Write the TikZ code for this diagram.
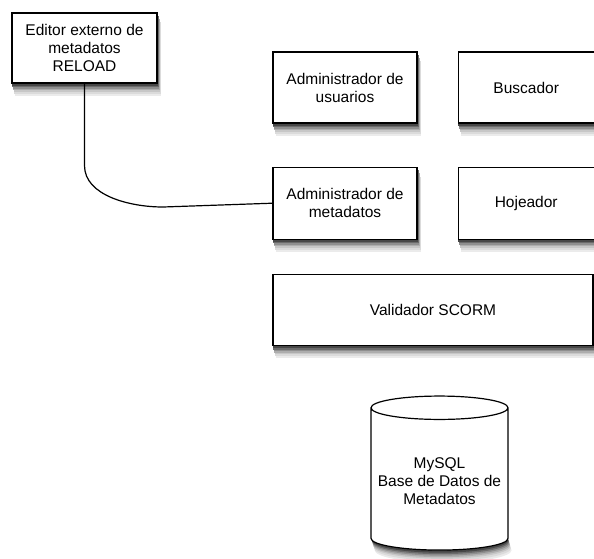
\documentclass[tikz,border=0pt]{standalone}
\usepackage{fontspec}
\setmainfont{Liberation Sans}
\usetikzlibrary{positioning,shapes.geometric,backgrounds}

\tikzset{
  modulo/.style={draw, line width=1.2pt, fill=white, align=center,
    font=\fontsize{15.5}{18}\selectfont},
}

\begin{document}
\begin{tikzpicture}[x=1pt, y=1pt]
  \useasboundingbox (0,0) rectangle (594,-558);
  \node (editor) [modulo, minimum width=145pt, minimum height=70pt] at (84.5,-48) {Editor externo de\\metadatos\\RELOAD};
  \node (usuarios) [modulo, minimum width=144pt, minimum height=71pt] at (345,-87.5) {Administrador de\\usuarios};
  \node (buscador) [modulo, minimum width=136pt, minimum height=71pt, right=40pt of usuarios] {Buscador};
  \node (meta) [modulo, minimum width=144pt, minimum height=72pt, below=43pt of usuarios] {Administrador de\\metadatos};
  \node (hojeador) [modulo, minimum width=136pt, minimum height=72pt, below=43pt of buscador] {Hojeador};
  \node (validador) [modulo, minimum width=320pt, minimum height=71pt, anchor=north west] at ([yshift=-34pt]meta.south west) {Validador SCORM};
  \node (bd) [modulo, cylinder, shape border rotate=90, aspect=0.18, minimum width=137pt, minimum height=154pt] at (439.5,-481) {MySQL\\Base de Datos de\\Metadatos};
  \draw[line width=1.2pt] (editor.south) -- ++(0,-82) .. controls ++(0,-30) and (130,-207) .. (163,-207) -- (meta.west);
  \begin{scope}[on background layer]
    \foreach \d/\g in {12/8,10/14,8/22,6.5/32,5/44,3.5/58,2/72} {
      \foreach \n in {editor,usuarios,buscador,meta,hojeador,validador}
        \fill[black!\g] ([xshift=\d*0.3pt, yshift=-\d pt]\n.south west) rectangle ([xshift=\d*0.3pt, yshift=-\d pt]\n.north east);
      \fill[black!\g] ([xshift=\d*0.3pt, yshift=12.5pt-\d pt]bd.south) ellipse [x radius=68.5pt, y radius=12.5pt];
    }
  \end{scope}
\end{tikzpicture}
\end{document}
